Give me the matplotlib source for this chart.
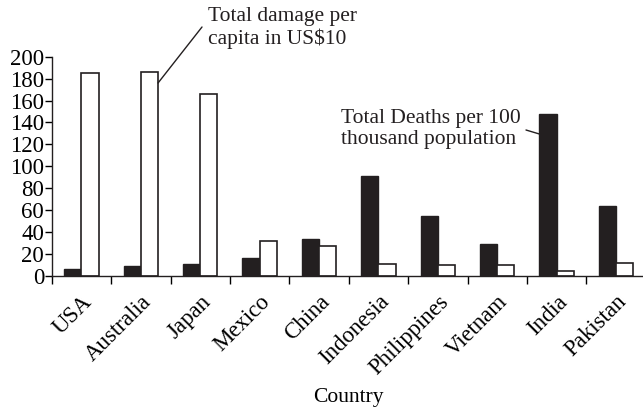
import numpy as np
import matplotlib
matplotlib.use('Agg')
from matplotlib import pyplot as plt

plt.rcParams['font.family'] = ['Liberation Serif', 'DejaVu Serif']

countries = ['USA', 'Australia', 'Japan', 'Mexico', 'China', 'Indonesia',
             'Philippines', 'Vietnam', 'India', 'Pakistan']
deaths = [6, 9, 11, 16, 34, 91, 55, 29, 148, 64]
damage = [185, 186, 166, 32, 27, 11, 10, 10, 5, 12]
yticks = list(range(0, 201, 20))

W, H = 643, 408
fig = plt.figure(figsize=(W / 100, H / 100), dpi=100)
ax = fig.add_axes([51.7 / W, 132 / H, 594 / W, 219.3 / H])

x = np.arange(len(countries))
bw = 0.29
ink = '#231f20'
ax.bar(x - bw / 2, deaths, bw, color=ink, edgecolor=ink, linewidth=1.0)
ax.bar(x + bw / 2, damage, bw, color='white', edgecolor=ink, linewidth=1.2)

ax.set_xlim(-0.5, len(countries) - 0.5)
ax.set_ylim(0, 200)
ax.set_yticks(yticks)
ax.tick_params(axis='y', labelsize=16.5, direction='out', length=5, width=1, pad=0.5)

# ticks on category borders, labels at the centres
ax.set_xticks(np.arange(len(countries) + 1) - 0.5)
ax.set_xticklabels([])
ax.tick_params(axis='x', direction='out', length=6, width=1)
ax.set_xticks(x, minor=True)
ax.set_xticklabels(countries, minor=True, rotation=45, ha='right',
                   rotation_mode='anchor', fontsize=16.5)
ax.tick_params(axis='x', which='minor', length=0, pad=11)

for s in ['top', 'right']:
    ax.spines[s].set_visible(False)
for s in ['left', 'bottom']:
    ax.spines[s].set_linewidth(1.0)
    ax.spines[s].set_color(ink)

ax.set_xlabel('Country', fontsize=15.5)
ax.xaxis.set_label_coords((348 - 51.7) / 594, -112 / 219.3)

# leader lines and labels
ax.annotate('', xy=(1 + bw, 176), xycoords='data',
            xytext=(202 / W, 1 - 27 / H), textcoords='figure fraction',
            arrowprops=dict(arrowstyle='-', color=ink, lw=1.0,
                            shrinkA=0, shrinkB=0))
fig.text(208 / W, 1 - 28 / H, 'Total damage per\ncapita in US$10', fontsize=15.5,
         ha='left', va='center', linespacing=1.2, color=ink)

ax.annotate('', xy=(8 - bw, 129.5), xycoords='data',
            xytext=(526 / W, 1 - 130 / H), textcoords='figure fraction',
            arrowprops=dict(arrowstyle='-', color=ink, lw=1.0,
                            shrinkA=0, shrinkB=0))
fig.text(341 / W, 1 - 129 / H, 'Total Deaths per 100\nthousand population',
         fontsize=15.5, ha='left', va='center', linespacing=1.2, color=ink)

fig.savefig('out.png', dpi=100)
